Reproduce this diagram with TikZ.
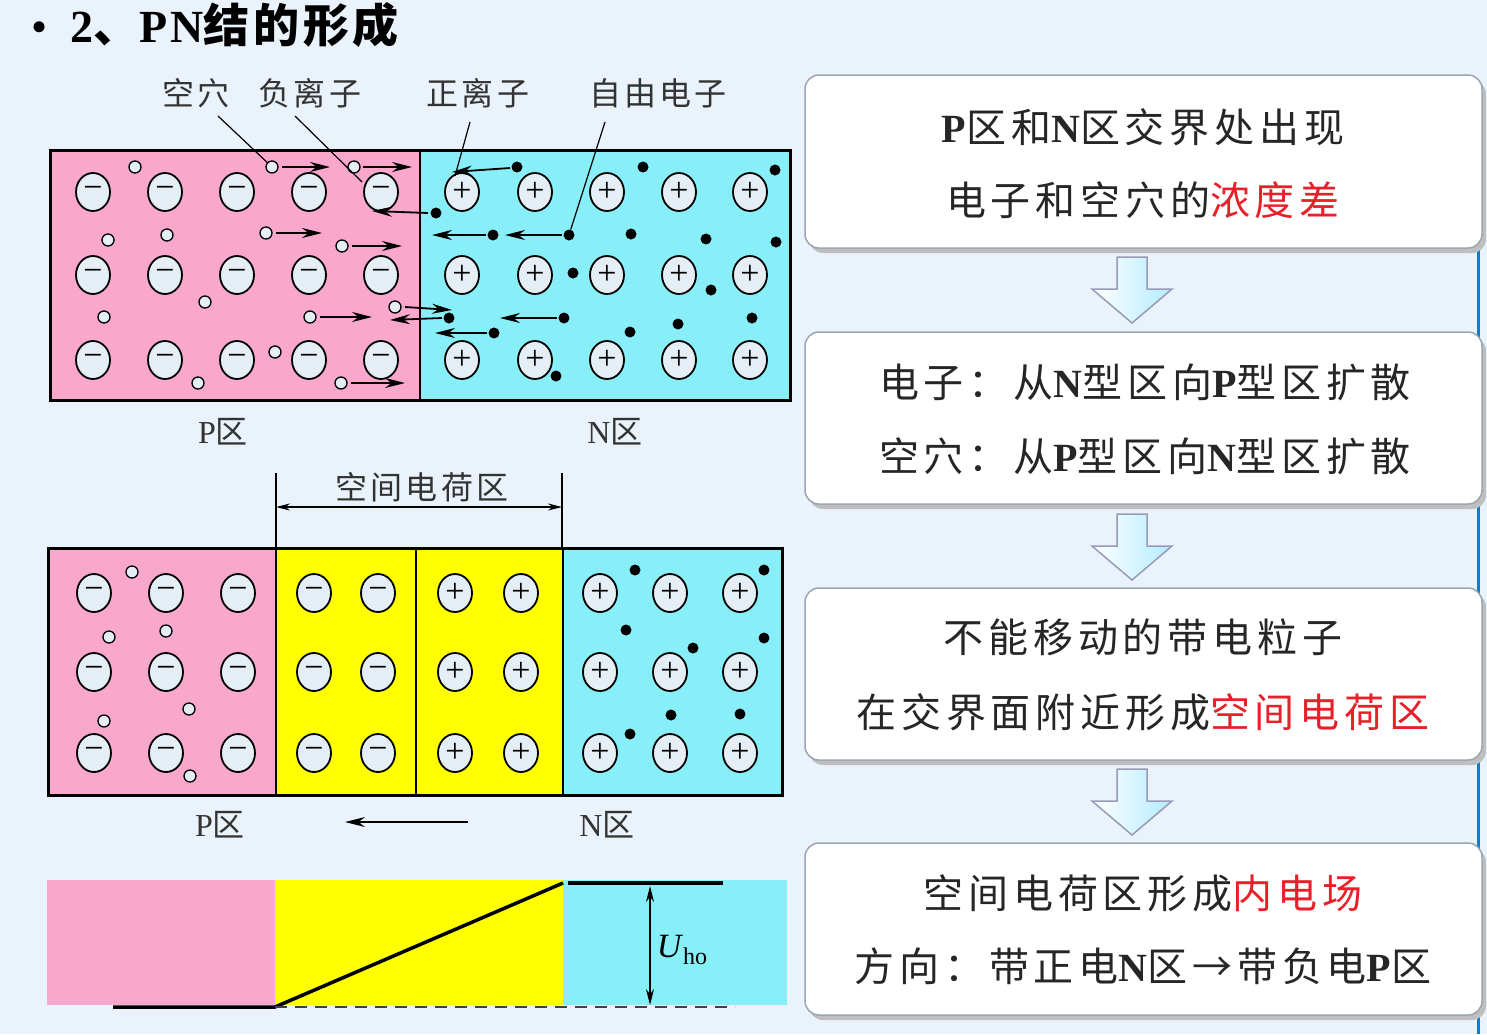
\documentclass[tikz,border=0pt]{standalone}
\usepackage{fontspec}
\setmainfont{Liberation Serif}
\newfontfamily\cjk{Noto Sans CJK SC}
\usetikzlibrary{arrows.meta,shapes.geometric}
\definecolor{bg}{HTML}{EAF3FB}
\definecolor{pk}{HTML}{F9A8CC}
\definecolor{cy}{HTML}{88EEF8}
\definecolor{yl}{HTML}{FFFF00}
\definecolor{ionf}{HTML}{E4EEF4}
\definecolor{rd}{HTML}{E8202A}
\definecolor{bx}{HTML}{9AA6B0}
\tikzset{
 ion/.style={draw,line width=1.8pt,fill=ionf,ellipse,minimum width=34pt,minimum height=38pt,inner sep=0pt,font=\rmfamily\fontsize{34}{34}\selectfont},
 hole/.style={draw,line width=1.3pt,fill=ionf,circle,minimum size=12pt,inner sep=0pt},
 elec/.style={fill=black,circle,minimum size=11pt,inner sep=0pt},
 mv/.style={-{Stealth[length=20pt,width=10pt]},line width=1.8pt},
 lbl/.style={font=\cjk\fontsize{32}{32}\selectfont\addfontfeatures{LetterSpace=10},text=black!80},
 box/.style={draw=bx,line width=1.5pt,fill=white,rounded corners=14pt},
 btxt/.style={font=\cjk\fontsize{40}{40}\selectfont\addfontfeatures{LetterSpace=12},text=black!85},
 barrow/.style={draw=blue!30!black!40,line width=1.5pt,left color=white,right color=blue!25!cyan!30},
}
\newcommand{\LL}[1]{{\rmfamily\bfseries\addfontfeatures{LetterSpace=6}#1}}
\begin{document}
\begin{tikzpicture}[x=1pt,y=-1pt]
\fill[bg] (0,0) rectangle (1487,1034);
\useasboundingbox (0,0) rectangle (1487,1034);
\node[anchor=west,font=\fontsize{46}{46}\selectfont] (title) at (28,25) {\textbullet\ \ \LL{2}{\cjk\bfseries\addfontfeatures{LetterSpace=8} 、}\LL{PN}{\cjk\bfseries\addfontfeatures{LetterSpace=8}结的形成}};
% ---------- top diagram
\fill[pk] (50,150) rectangle (420,400);
\fill[cy] (420,150) rectangle (790,400);
\draw[line width=3pt] (50,150) rectangle (790,400);
\draw[line width=2pt] (420,150) -- (420,400);
\foreach \x in {93,165,237,309,381}\foreach \y in {192,275,360}\node[ion] at (\x,\y) {−};
\foreach \x in {462,535,607,679,750}\foreach \y in {192,275,360}\node[ion] at (\x,\y) {+};
\foreach \n/\p in {h1/{135,167},h2/{272,167},h3/{354,167},h4/{108,240},h5/{167,235},h6/{266,233},h7/{342,246},h8/{205,302},h9/{104,317},h10/{310,317},h11/{395,307},h12/{275,352},h13/{198,383},h14/{341,383}}
 \node[hole] (\n) at (\p) {};
\foreach \a/\b in {{282,167}/{330,167},{363,167}/{412,167},{276,233}/{322,233},{352,246}/{402,246},{320,317}/{372,317},{405,307}/{452,310},{351,383}/{405,383}}
 \draw[mv] (\a) -- (\b);
\foreach \n/\p in {e1/{517,167},e2/{643,167},e3/{775,170},e4/{436,213},e5/{493,235},e6/{569,235},e7/{631,234},e8/{706,239},e9/{776,242},e10/{573,273},e11/{711,290},e12/{564,318},e13/{678,324},e14/{630,332},e15/{752,318},e16/{449,318},e17/{556,376},e18/{494,333}}
 \node[elec] (\n) at (\p) {};
\foreach \a/\b in {{510,168}/{452,172},{428,213}/{372,211},{486,235}/{432,235},{562,235}/{505,235},{557,318}/{500,318},{442,318}/{390,320},{487,333}/{435,333}}
 \draw[mv] (\a) -- (\b);
\node[lbl] (l1) at (196,93) {空穴};
\node[lbl] (l2) at (310,93) {负离子};
\node[lbl] (l3) at (478,93) {正离子};
\node[lbl] (l4) at (658,93) {自由电子};
\draw[line width=1.2pt] (218,116) -- (h2);
\draw[line width=1.2pt] (295,116) -- (362,182);
\draw[line width=1.2pt] (470,122) -- (455,176);
\draw[line width=1.2pt] (605,122) -- (e6);
\node[lbl] at (223,432) {\rmfamily P\cjk 区};
\node[lbl] at (615,432) {\rmfamily N\cjk 区};
% ---------- middle diagram
\node[lbl] (scr) at (422,487) {空间电荷区};
\draw[line width=1.2pt] (276,473) -- (276,548) (562,473) -- (562,548);
\draw[{Stealth[length=14pt,width=7pt]}-{Stealth[length=14pt,width=7pt]},line width=1.2pt] (276,507) -- (562,507);
\fill[pk] (48,548) rectangle (276,795);
\fill[yl] (276,548) rectangle (563,795);
\fill[cy] (563,548) rectangle (782,795);
\draw[line width=3pt] (48,548) rectangle (782,795);
\draw[line width=2pt] (276,548) -- (276,795) (416,548) -- (416,795) (563,548) -- (563,795);
\foreach \x in {94,166,238,314,378}\foreach \y in {593,672,753}\node[ion] at (\x,\y) {−};
\foreach \x in {455,521,600,670,740}\foreach \y in {593,672,753}\node[ion] at (\x,\y) {+};
\foreach \p in {{132,572},{109,637},{166,631},{189,709},{104,721},{190,776}}\node[hole] at (\p) {};
\foreach \p in {{635,570},{764,570},{626,630},{764,638},{693,648},{671,715},{740,714},{630,734}}\node[elec] at (\p) {};
\node[lbl] at (220,825) {\rmfamily P\cjk 区};
\node[lbl] at (607,825) {\rmfamily N\cjk 区};
\coordinate (ea) at (468,822); \coordinate (eb) at (345,822);
\draw[mv,line width=1.4pt] (ea) -- (eb);
% ---------- bottom
\fill[pk] (47,880) rectangle (275,1005);
\fill[yl] (275,880) rectangle (563,1005);
\fill[cy] (563,880) rectangle (787,1005);
\coordinate (b0) at (113,1007); \coordinate (b1) at (275,1007); \coordinate (b2) at (563,883);
\coordinate (b3) at (568,883); \coordinate (b4) at (723,883); \coordinate (b5) at (735,1007);
\draw[line width=3.5pt] (b0) -- (b1) -- (b2);
\draw[line width=3.5pt] (b3) -- (b4);
\draw[dashed,dash pattern=on 12pt off 8pt,line width=1.5pt,black!75] (b1) -- (b5);
\draw[{Stealth[length=16pt,width=8pt]}-{Stealth[length=16pt,width=8pt]},line width=1.3pt] (650,886) -- (650,1005);
\node[font=\fontsize{34}{34}\selectfont] at (682,950) {\textit{U}\raisebox{-7pt}{\fontsize{24}{24}\selectfont ho}};
% ---------- right boxes
\draw[line width=3pt,cyan!60!blue] (1478,250) -- (1478,1034);
\foreach \n/\ya/\yb in {B1/75/248,B2/332/504,B3/588/760,B4/843/1015}{
 \fill[black!25,rounded corners=14pt] (809,\ya+5) rectangle (1486,\yb+5);
 \draw[box] (805,\ya) rectangle (1482,\yb);
 \coordinate (\n) at (1143,\ya);}
\node[btxt] at (1143,127) {\LL{P}区和\LL{N}区交界处出现};
\node[btxt] at (1143,200) {电子和空穴的\textcolor{rd}{浓度差}};
\node[btxt] at (1145,382) {电子：从\LL{N}型区向\LL{P}型区扩散};
\node[btxt] at (1145,456) {空穴：从\LL{P}型区向\LL{N}型区扩散};
\node[btxt] at (1143,637) {不能移动的带电粒子};
\node[btxt] at (1143,712) {在交界面附近形成\textcolor{rd}{空间电荷区}};
\node[btxt] at (1143,893) {空间电荷区形成\textcolor{rd}{内电场}};
\node[btxt] at (1143,966) {方向：带正电\LL{N}区→带负电\LL{P}区};
\foreach \t in {257,514,769}
 \draw[barrow] (1117,\t) -- (1147,\t) -- (1147,\t+32) -- (1172,\t+32) -- (1132,\t+66) -- (1092,\t+32) -- (1117,\t+32) -- cycle;
\end{tikzpicture}
\end{document}
